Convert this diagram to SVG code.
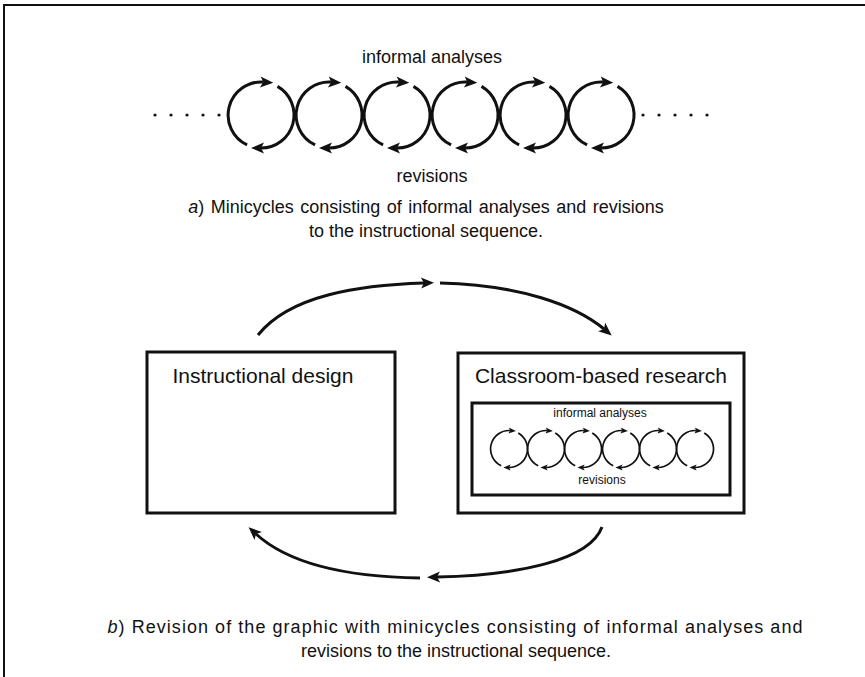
<svg xmlns="http://www.w3.org/2000/svg" xmlns:xlink="http://www.w3.org/1999/xlink" width="865" height="677" viewBox="0 0 865 677">
<style>
  text { font-family: "Liberation Sans", Arial, sans-serif; fill: #111; }
  .lbl { font-size: 18px; text-anchor: middle; }
  .box { fill: none; stroke: #111; stroke-width: 3; }
  .arc { fill: none; stroke: #111; stroke-width: 3; marker-end: url(#ah); }
  .conn { fill: none; stroke: #111; stroke-width: 3; marker-end: url(#ah); }
  .dot { fill: #111; }
</style>
<defs>
  <marker id="ah" markerUnits="userSpaceOnUse" markerWidth="16" markerHeight="13" refX="3" refY="5.5" orient="auto" overflow="visible">
    <path d="M0,0 L13,5.5 L0,11 L3,5.5 z" fill="#111"/>
  </marker>
  <g id="cyc">
    <path class="arc" d="M-13.9,29.9 A33,33 0 0 1 2.3,-32.9"/>
    <path class="arc" d="M16.5,-28.6 A33,33 0 0 1 0,33"/>
  </g>
</defs>
<rect width="865" height="677" fill="#fff"/>
<path d="M4,677 L4,5 L865,5" fill="none" stroke="#111" stroke-width="2"/>

<g id="part-a">
  <text class="lbl" x="432" y="63" font-size="17.5">informal analyses</text>
  <g id="dots-left">
    <circle class="dot" cx="155" cy="115" r="1.6"/>
    <circle class="dot" cx="171" cy="115" r="1.6"/>
    <circle class="dot" cx="187" cy="115" r="1.6"/>
    <circle class="dot" cx="203" cy="115" r="1.6"/>
    <circle class="dot" cx="219" cy="115" r="1.6"/>
  </g>
  <g id="cycles-a">
    <use xlink:href="#cyc" transform="translate(261,115)"/>
    <use xlink:href="#cyc" transform="translate(329,115)"/>
    <use xlink:href="#cyc" transform="translate(397,115)"/>
    <use xlink:href="#cyc" transform="translate(465,115)"/>
    <use xlink:href="#cyc" transform="translate(533,115)"/>
    <use xlink:href="#cyc" transform="translate(601,115)"/>
  </g>
  <g id="dots-right">
    <circle class="dot" cx="643" cy="115" r="1.6"/>
    <circle class="dot" cx="659" cy="115" r="1.6"/>
    <circle class="dot" cx="675" cy="115" r="1.6"/>
    <circle class="dot" cx="691" cy="115" r="1.6"/>
    <circle class="dot" cx="707" cy="115" r="1.6"/>
  </g>
  <text class="lbl" x="432" y="182">revisions</text>
  <text class="lbl" x="426" y="213" word-spacing="1.5"><tspan font-style="italic">a</tspan>) Minicycles consisting of informal analyses and revisions</text>
  <text class="lbl" x="426" y="237">to the instructional sequence.</text>
</g>

<g id="instructional-design">
  <rect class="box" x="147" y="352" width="248" height="161"/>
  <text x="263" y="383" font-size="21" text-anchor="middle">Instructional design</text>
</g>

<g id="classroom-research">
  <rect class="box" x="458" y="353" width="286" height="160"/>
  <text x="601" y="383" font-size="21" text-anchor="middle">Classroom-based research</text>
  <rect class="box" x="472" y="403" width="258" height="92"/>
  <text x="600" y="417" font-size="12" text-anchor="middle">informal analyses</text>
  <g id="cycles-b">
    <use xlink:href="#cyc" transform="translate(509,449) scale(0.56)"/>
    <use xlink:href="#cyc" transform="translate(546,449) scale(0.56)"/>
    <use xlink:href="#cyc" transform="translate(583,449) scale(0.56)"/>
    <use xlink:href="#cyc" transform="translate(621,449) scale(0.56)"/>
    <use xlink:href="#cyc" transform="translate(658,449) scale(0.56)"/>
    <use xlink:href="#cyc" transform="translate(695,449) scale(0.56)"/>
  </g>
  <text x="602" y="484" font-size="12" text-anchor="middle">revisions</text>
</g>

<g id="connectors">
  <path class="conn" d="M258,335 C290,295 360,285 424,283"/>
  <path class="conn" d="M440,283 C520,285 575,305 604,329"/>
  <path class="conn" d="M602,527 C590,560 520,575 437,577"/>
  <path class="conn" d="M420,578 C350,577 290,565 256,534"/>
</g>

<g id="caption-b">
  <text class="lbl" x="455" y="633" font-size="19.5" textLength="695" lengthAdjust="spacing"><tspan font-style="italic">b</tspan>) Revision of the graphic with minicycles consisting of informal analyses and</text>
  <text class="lbl" x="456" y="657">revisions to the instructional sequence.</text>
</g>
</svg>
